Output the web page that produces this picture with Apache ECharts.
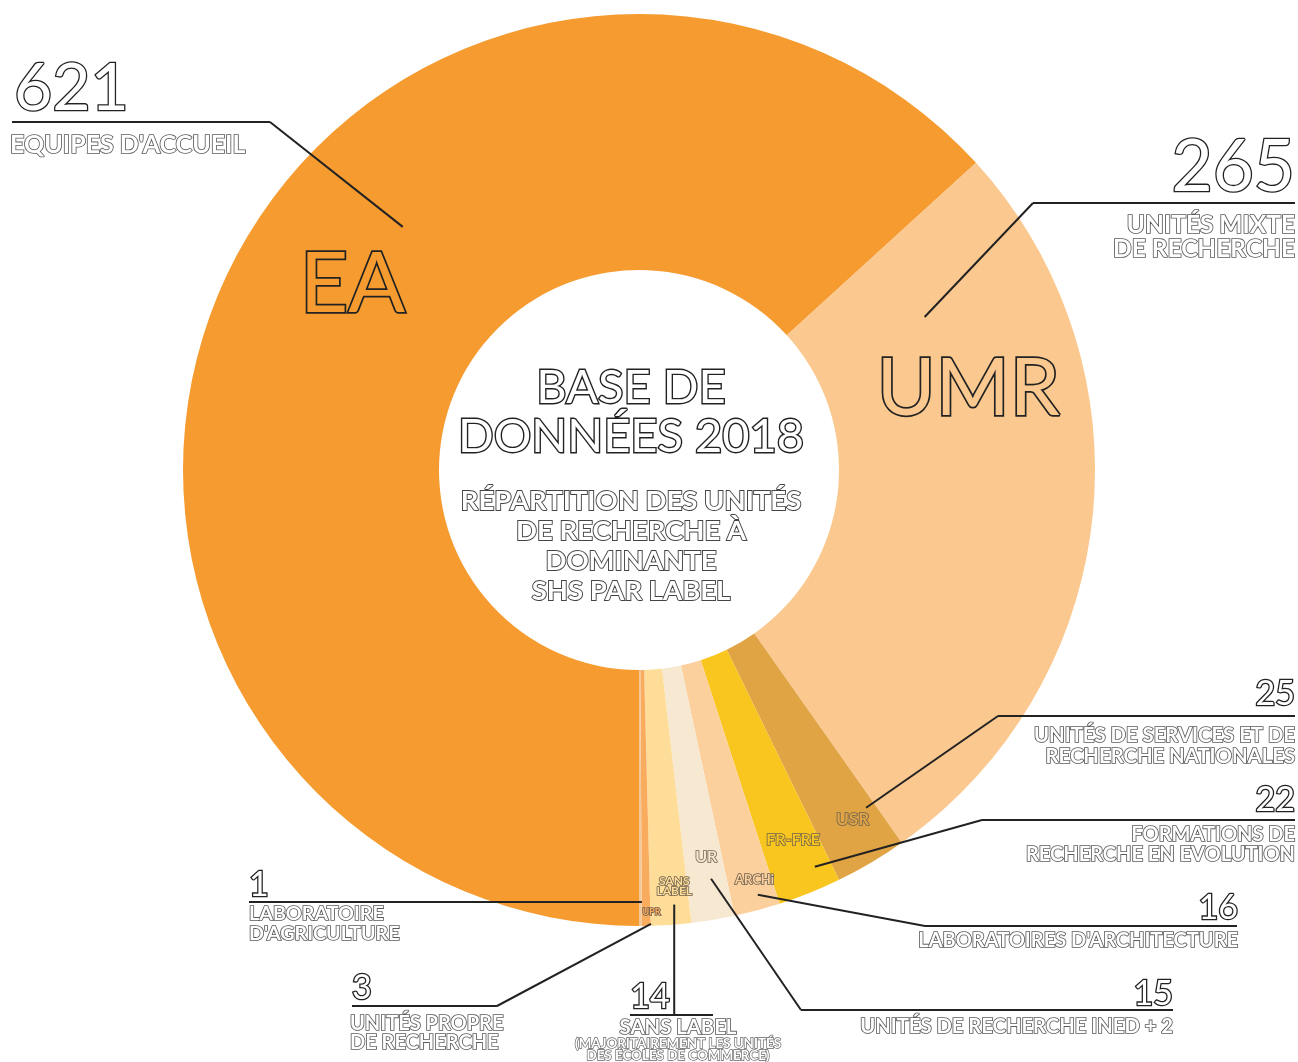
<!DOCTYPE html>
<html>
<head>
<meta charset="utf-8">
<script src="https://cdn.jsdelivr.net/npm/echarts@6/dist/echarts.min.js"></script>
<style>html,body{margin:0;padding:0;background:#fff;}#chart{width:1298px;height:1062px;}</style>
</head>
<body>
<div id="chart"></div>
<script>
// ---- data ----
const categories = ['EA', 'UMR', 'USR', 'FR-FRE', 'ARCHi', 'UR', 'SANS\nLABEL', 'UPR', 'LAB'];
const values = [621, 265, 25, 22, 16, 15, 14, 3, 1];
const numberLabels = ['621', '265', '25', '22', '16', '15', '14', '3', '1'];
const descriptions = [
  ["EQUIPES D'ACCUEIL"],
  ['UNITÉS MIXTE', 'DE RECHERCHE'],
  ['UNITÉS DE SERVICES ET DE', 'RECHERCHE NATIONALES'],
  ['FORMATIONS DE', 'RECHERCHE EN EVOLUTION'],
  ["LABORATOIRES D'ARCHITECTURE"],
  ['UNITÉS DE RECHERCHE INED + 2'],
  ['SANS LABEL'],
  ['UNITÉS PROPRE', 'DE RECHERCHE'],
  ['LABORATOIRE', "D'AGRICULTURE"]
];
const sansLabelNote = ['(MAJORITAIREMENT LES UNITÉS', 'DES ÉCOLES DE COMMERCE)'];
const titleLines = ['BASE DE', 'DONNÉES 2018'];
const subtitleLines = ['RÉPARTITION DES UNITÉS', 'DE RECHERCHE À', 'DOMINANTE', 'SHS PAR LABEL'];

// ---- style / layout ----
const colors = ['#F59B2F', '#FBC98F', '#E0A444', '#F9C620', '#FBD09D', '#F7E8D2', '#FDDD98', '#F9AB5E', '#F3C89B'];
const FONT = 'Lato';
const CX = 639, CY = 470, R0 = 200, R1 = 456;
const TITLE_X = 631;
// in-slice label placement (angle shift in degrees, radius px)
const labelShift = [-9, 20, 0.8, 0.6, 0.7, 0.5, 0.8, 0.7, 0];
const labelRad = [341, 339, 410, 401, 426, 393, 418, 442, 0];
const labelSize = [84, 80, 17, 16, 13, 16, 12, 9, 0];
// leader-line anchors on slices
const anchorShift = [-22, 34.4, 3.3, 1.9, 0.6, 0.65, 0.6, 0.6, 0.2];
const anchorRad = [339, 324, 407, 434, 441, 415, 436, 454, 432];

const total = values.reduce((a, b) => a + b, 0);
const mids = [];
let acc = 0;
values.forEach(v => { mids.push(270 - (acc + v / 2) / total * 360); acc += v; });
function polar(a, r) {
  const t = a * Math.PI / 180;
  return [CX + r * Math.cos(t), CY - r * Math.sin(t)];
}
const anchors = values.map((v, i) => polar(mids[i] + anchorShift[i], anchorRad[i]));

// annotation layout: underline, number and text placement
const ann = [
  {x1: 12, x2: 270, y: 122, join: 'x2', align: 'left', nx: 14, ny: 89, ns: 66, tx: 10, ty: [145], ts: 25},
  {x1: 1033, x2: 1295, y: 203, join: 'x1', align: 'right', nx: 1295, ny: 168, ns: 71, tx: 1295, ty: [225, 249], ts: 24.5},
  {x1: 998, x2: 1295, y: 716, join: 'x1', align: 'right', nx: 1295, ny: 694, ns: 34, tx: 1295, ty: [735, 756], ts: 20.3},
  {x1: 982, x2: 1295, y: 820, join: 'x1', align: 'right', nx: 1295, ny: 800, ns: 34, tx: 1295, ty: [835, 855], ts: 20},
  {x1: 925, x2: 1237, y: 926, join: 'x1', align: 'right', nx: 1238, ny: 908, ns: 34, tx: 1238, ty: [941], ts: 20},
  {x1: 801, x2: 1173, y: 1010, join: 'x1', align: 'right', nx: 1173, ny: 994, ns: 34, tx: 1173, ty: [1026], ts: 20.2},
  {x1: 630, x2: 713, y: 1015, join: 'v', align: 'center', nx: 650, ny: 997, ns: 34, tx: 678, ty: [1027], ts: 20.3},
  {x1: 352, x2: 497, y: 1006, join: 'x2', align: 'left', nx: 352, ny: 988, ns: 34, tx: 350, ty: [1024, 1043], ts: 20},
  {x1: 249, x2: null, y: null, join: 'h', align: 'left', nx: 249, ny: 885, ns: 34, tx: 249, ty: [914, 934], ts: 19.7}
];

const graphics = [];
function txt(text, x, y, size, align, weight, fill, stroke, lw) {
  graphics.push({
    type: 'text', silent: true, z: 10,
    style: {
      text: text, x: x, y: y, fill: fill, stroke: stroke, lineWidth: lw,
      font: weight + ' ' + size + 'px ' + FONT,
      textAlign: align, textVerticalAlign: 'middle', align: align, verticalAlign: 'middle'
    }
  });
}
function line(points) {
  graphics.push({type: 'polyline', silent: true, z: 9, shape: {points: points}, style: {stroke: '#222', lineWidth: 2, fill: null}});
}

ann.forEach((a, i) => {
  const p = anchors[i];
  if (a.join === 'h') {
    line([[a.x1, p[1]], p]);
  } else if (a.join === 'v') {
    line([[a.x1, a.y], [a.x2, a.y]]);
    line([[p[0], a.y], p]);
  } else {
    const jx = a.join === 'x1' ? a.x1 : a.x2;
    line([[a.x1, a.y], [a.x2, a.y]]);
    line([[jx, a.y], p]);
  }
  txt(numberLabels[i], a.nx, a.ny, a.ns, a.align, 'normal', '#fff', '#222', 2.6);
  descriptions[i].forEach((t, k) => txt(t, a.tx, a.ty[k], a.ts, a.align, 'bold', '#fff', '#5a5a5a', 1.7));
});
sansLabelNote.forEach((t, k) => txt(t, 678, 1044 + k * 12, 13.4, 'center', 'bold', '#fff', '#666', 1.4));
titleLines.forEach((t, k) => txt(t, TITLE_X, 388 + k * 49, 47, 'center', 'normal', '#fff', '#222', 2.8));
subtitleLines.forEach((t, k) => txt(t, TITLE_X, 501 + k * 30, 27.5, 'center', 'bold', '#fff', '#444', 1.9));

const pieData = values.map((v, i) => ({
  name: categories[i], value: v,
  itemStyle: {color: colors[i]},
  label: i < 8 ? {
    show: true, position: 'inside', formatter: '{b}',
    color: colors[i],
    textBorderColor: i < 2 ? '#222' : '#6f6250',
    textBorderWidth: i < 2 ? 3.4 : 1.6,
    fontFamily: FONT, fontWeight: i < 2 ? 'normal' : 'bold',
    fontSize: labelSize[i], lineHeight: labelSize[i] * 0.85
  } : {show: false}
}));

const chart = echarts.init(document.getElementById('chart'), null, {renderer: 'canvas'});
chart.setOption({
  backgroundColor: '#fff',
  animation: false,
  series: [{
    type: 'pie',
    center: [CX, CY],
    radius: [R0, R1],
    startAngle: 270,
    clockwise: true,
    avoidLabelOverlap: false,
    silent: true,
    labelLine: {show: false},
    itemStyle: {borderWidth: 0},
    labelLayout: function (params) {
      const i = params.dataIndex;
      const p = polar(mids[i] + labelShift[i], labelRad[i]);
      return {x: p[0], y: p[1], align: 'center', verticalAlign: 'middle'};
    },
    data: pieData
  }],
  graphic: {elements: graphics}
});
</script>
</body>
</html>
